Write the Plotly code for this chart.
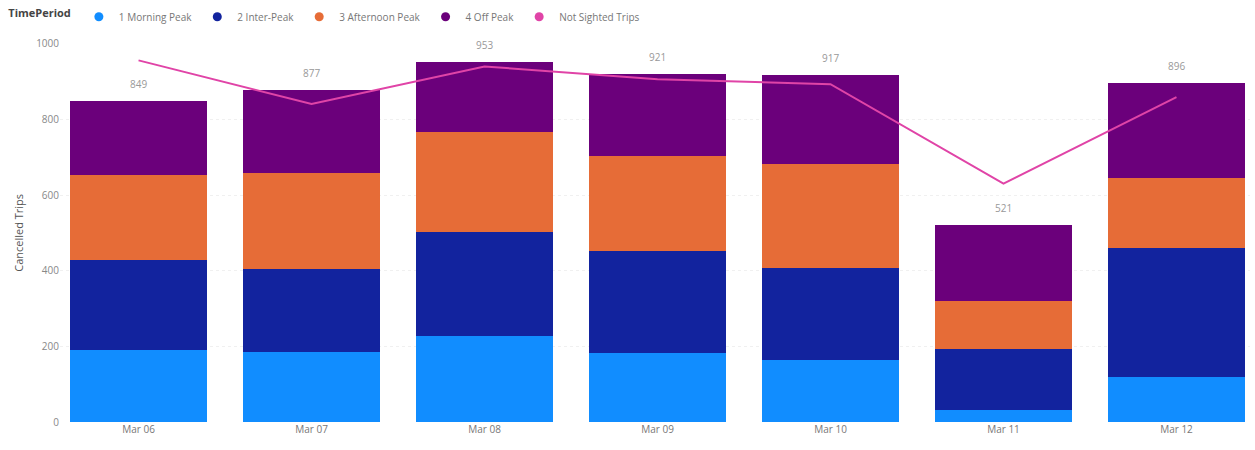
import plotly.graph_objects as go

dates = ["Mar 06", "Mar 07", "Mar 08", "Mar 09", "Mar 10", "Mar 11", "Mar 12"]
morning_peak = [190, 185, 227, 182, 164, 31, 120]
inter_peak = [237, 219, 276, 271, 242, 162, 341]
afternoon_peak = [227, 255, 263, 250, 276, 127, 185]
off_peak = [195, 218, 187, 218, 235, 201, 250]
not_sighted = [956, 841, 940, 906, 893, 630, 859]

series = [
    ("1 Morning Peak", morning_peak, "#118DFF"),
    ("2 Inter-Peak", inter_peak, "#12239E"),
    ("3 Afternoon Peak", afternoon_peak, "#E66C37"),
    ("4 Off Peak", off_peak, "#6B007B"),
]
line_name, line_color = "Not Sighted Trips", "#E044A7"

totals = [sum(v) for v in zip(morning_peak, inter_peak, afternoon_peak, off_peak)]

fig = go.Figure()
for name, vals, col in series:
    fig.add_trace(go.Bar(x=dates, y=vals, name=name, showlegend=False,
                         marker=dict(color=col, line=dict(width=0))))

fig.add_trace(go.Scatter(
    x=dates, y=not_sighted, mode="lines", name=line_name, showlegend=False,
    line=dict(color=line_color, width=2)))

# legend entries with circle markers
for name, _, col in series + [(line_name, None, line_color)]:
    fig.add_trace(go.Scatter(x=[None], y=[None], mode="markers", name=name,
                             marker=dict(symbol="circle", size=9, color=col)))

for d, t in zip(dates, totals):
    fig.add_annotation(x=d, y=t, text=str(t), showarrow=False, yanchor="bottom",
                       yshift=8, font=dict(size=10, color="#999999"))

fig.update_layout(
    width=1255, height=450,
    barmode="stack", bargap=0.21,
    paper_bgcolor="white", plot_bgcolor="white",
    margin=dict(l=60, r=5, t=38, b=28),
    font=dict(family="Open Sans, DejaVu Sans, sans-serif", size=11, color="#666666"),
    legend=dict(orientation="h", x=0.005, xref="container", y=0.995, yref="container",
                xanchor="left", yanchor="top",
                title=dict(text="<b>TimePeriod</b>", font=dict(size=11, color="#444444")),
                font=dict(size=10, color="#777777"), itemwidth=30,
                tracegroupgap=0, traceorder="normal"),
    xaxis=dict(range=[-0.454, 6.425], showgrid=False, showline=False, ticks="",
               tickfont=dict(size=10, color="#777777")),
    yaxis=dict(range=[0, 1000], tickvals=[0, 200, 400, 600, 800, 1000],
               showgrid=True, gridcolor="#F0F0F0", griddash="dot", zeroline=False,
               tickfont=dict(size=10, color="#888888"),
               title=dict(text="Cancelled Trips", font=dict(size=11, color="#555555"), standoff=10)),
)

fig.write_html("out.html")
